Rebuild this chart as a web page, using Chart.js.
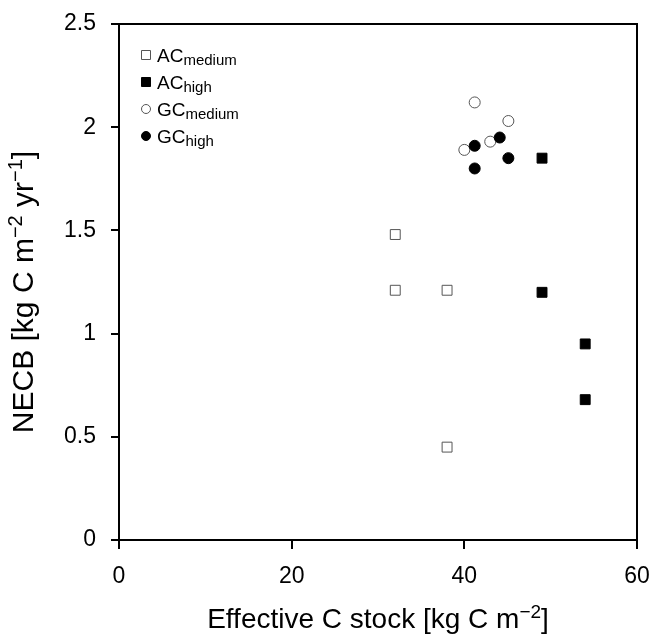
<!DOCTYPE html>
<html><head><meta charset="utf-8">
<script src="https://cdn.jsdelivr.net/npm/chart.js@4.4.1/dist/chart.umd.min.js"></script>
<style>html,body{margin:0;padding:0;background:#fff}#wrap{width:653px;height:636px}</style>
</head><body><div id="wrap"><canvas id="c" width="653" height="636"></canvas></div>
<script>
const xTicks = [0, 20, 40, 60];
const yTicks = [0, 0.5, 1, 1.5, 2, 2.5];
const acMediumX = [32, 32, 38, 38];
const acMediumY = [1.48, 1.21, 1.21, 0.45];
const acHighX = [49, 49, 54, 54];
const acHighY = [1.85, 1.20, 0.95, 0.68];
const gcMediumX = [41.2, 45.1, 43.0, 40.0];
const gcMediumY = [2.12, 2.03, 1.93, 1.89];
const gcHighX = [41.2, 44.1, 45.1, 41.2];
const gcHighY = [1.91, 1.95, 1.85, 1.80];
const legendMain = ['AC', 'AC', 'GC', 'GC'];
const legendSub = ['medium', 'high', 'medium', 'high'];
// title pieces: [text, isSuperscript]
const xTitleParts = [['Effective C stock [kg C m', false], ['\u22122', true], [']', false]];
const yTitleParts = [['NECB [kg C m', false], ['\u22122', true], [' yr', false], ['\u22121', true], [']', false]];

const pts = (xs, ys) => xs.map((x, i) => ({x: x, y: ys[i]}));
const FONT = "'Liberation Sans', Arial, sans-serif";

const styles = [
  {pointStyle: 'rect', pointRadius: 7, backgroundColor: '#ffffff', borderColor: '#555555', order: 3},
  {pointStyle: 'rect', pointRadius: 7, backgroundColor: '#000000', borderColor: '#000000', order: 4},
  {pointStyle: 'circle', pointRadius: 5.5, backgroundColor: '#ffffff', borderColor: '#555555', order: 2},
  {pointStyle: 'circle', pointRadius: 5.5, backgroundColor: '#000000', borderColor: '#000000', order: 1}
];
const series = [pts(acMediumX, acMediumY), pts(acHighX, acHighY), pts(gcMediumX, gcMediumY), pts(gcHighX, gcHighY)];

const datasets = series.map((d, i) => Object.assign({
  label: legendMain[i] + legendSub[i],
  data: d,
  pointBorderWidth: 1,
  pointHoverRadius: styles[i].pointRadius,
  showLine: false
}, styles[i], {pointBackgroundColor: styles[i].backgroundColor, pointBorderColor: styles[i].borderColor}));

function partsWidth(ctx, parts, size, sup) {
  let w = 0;
  for (const [t, isSup] of parts) {
    ctx.font = (isSup ? sup : size) + 'px ' + FONT;
    w += ctx.measureText(t).width;
  }
  return w;
}
function drawParts(ctx, parts, x0, y0, size, sup, rise) {
  let x = x0;
  for (const [t, isSup] of parts) {
    ctx.font = (isSup ? sup : size) + 'px ' + FONT;
    ctx.fillText(t, x, isSup ? y0 - rise : y0);
    x += ctx.measureText(t).width;
  }
}

const frame = {
  id: 'frame',
  afterDatasetsDraw(chart) {
    const {ctx, chartArea: a} = chart;
    ctx.save();
    ctx.strokeStyle = '#000';
    ctx.lineWidth = 2;
    ctx.beginPath();
    ctx.moveTo(a.left, a.top);
    ctx.lineTo(a.right, a.top);
    ctx.lineTo(a.right, a.bottom);
    ctx.stroke();
    ctx.restore();
  }
};

const titles = {
  id: 'titles',
  afterDraw(chart) {
    const {ctx, chartArea: a} = chart;
    ctx.save();
    ctx.fillStyle = '#000';
    ctx.textAlign = 'left';
    ctx.textBaseline = 'alphabetic';
    const xw = partsWidth(ctx, xTitleParts, 28, 19);
    drawParts(ctx, xTitleParts, (a.left + a.right) / 2 - xw / 2, 628, 28, 19, 10);
    const yw = partsWidth(ctx, yTitleParts, 30, 20);
    ctx.translate(33, 292);
    ctx.rotate(-Math.PI / 2);
    drawParts(ctx, yTitleParts, -yw / 2, 0, 30, 20, 11);
    ctx.restore();
  }
};

const legendSubs = {
  id: 'legendSubs',
  afterDraw(chart) {
    const {ctx, chartArea: a} = chart;
    ctx.save();
    for (let i = 0; i < legendMain.length; i++) {
      const cy = a.top + 31 + i * 27;
      const cx = a.left + 27;
      const s = styles[i];
      ctx.lineWidth = 1;
      ctx.fillStyle = s.backgroundColor;
      ctx.strokeStyle = s.borderColor;
      ctx.beginPath();
      if (s.pointStyle === 'rect') {
        ctx.rect(cx - 4.5, cy - 4.5, 9, 9);
      } else {
        ctx.arc(cx, cy, 4.5, 0, Math.PI * 2);
      }
      ctx.fill();
      ctx.stroke();
      ctx.fillStyle = '#000';
      ctx.textBaseline = 'alphabetic';
      ctx.textAlign = 'left';
      ctx.font = '19px ' + FONT;
      const tx = cx + 11;
      const by = cy + 7;
      ctx.fillText(legendMain[i], tx, by);
      const w = ctx.measureText(legendMain[i]).width;
      ctx.font = '15px ' + FONT;
      ctx.fillText(legendSub[i], tx + w, by + 3);
    }
    ctx.restore();
  }
};

new Chart(document.getElementById('c'), {
  type: 'scatter',
  data: {datasets},
  options: {
    responsive: false,
    animation: false,
    devicePixelRatio: 1,
    layout: {padding: {left: 0, top: 24, right: 16, bottom: 0}},
    plugins: {legend: {display: false}, tooltip: {enabled: false}},
    scales: {
      x: {
        type: 'linear', min: 0, max: 60,
        afterBuildTicks: s => { s.ticks = xTicks.map(v => ({value: v})); },
        afterFit: s => { s.height = 96; s.paddingLeft = 0; s.paddingRight = 0; },
        ticks: {font: {family: FONT, size: 23}, color: '#000', padding: 14, maxRotation: 0, callback: v => String(v)},
        grid: {drawOnChartArea: false, drawTicks: true, tickLength: 9, color: '#000', lineWidth: 2},
        border: {display: true, color: '#000', width: 2},
        title: {display: false}
      },
      y: {
        type: 'linear', min: 0, max: 2.5,
        afterBuildTicks: s => { s.ticks = yTicks.map(v => ({value: v})); },
        afterFit: s => { s.width = 119; s.paddingTop = 0; s.paddingBottom = 0; },
        ticks: {font: {family: FONT, size: 23}, color: '#000', padding: 15, callback: v => String(v)},
        grid: {drawOnChartArea: false, drawTicks: true, tickLength: 8, color: '#000', lineWidth: 2},
        border: {display: true, color: '#000', width: 2},
        title: {display: false}
      }
    }
  },
  plugins: [frame, titles, legendSubs]
});
</script>
</body></html>
